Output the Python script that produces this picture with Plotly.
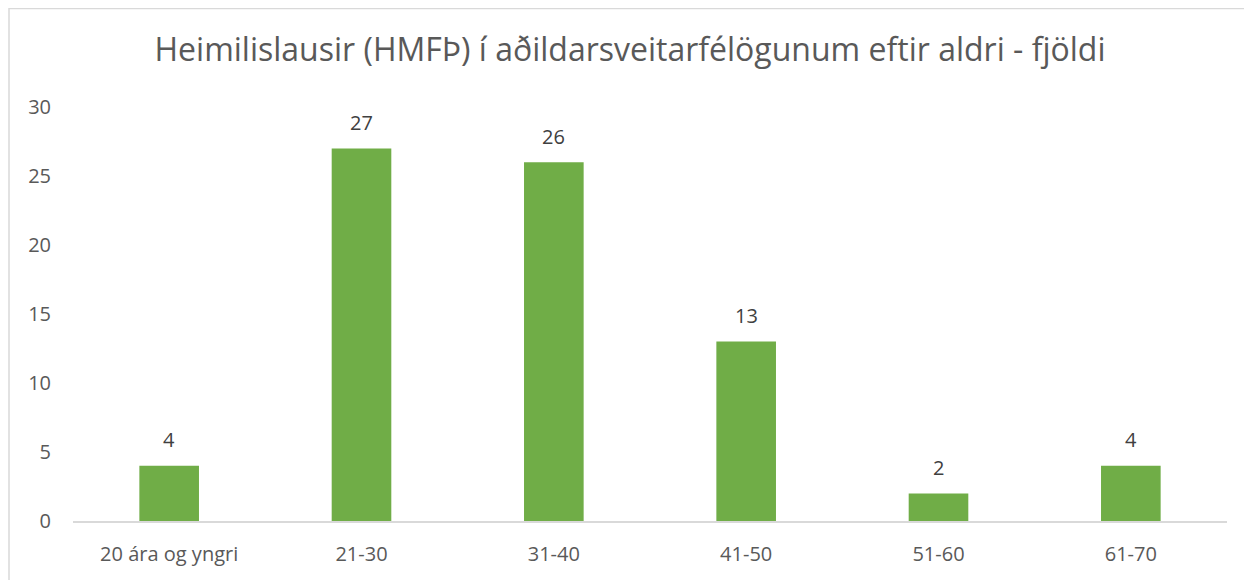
import plotly.graph_objects as go

categories = ["20 ára og yngri", "21-30", "31-40", "41-50", "51-60", "61-70"]
values = [4, 27, 26, 13, 2, 4]
y_ticks = [0, 5, 10, 15, 20, 25, 30]

OFF = 8  # default page body margin
W, H = 1252 - OFF, 580 - OFF
L, T = 73 - OFF, 107 - OFF
R = 1252 - 1227
B = 580 - 521
pw, ph = W - L - R, H - T - B

fig = go.Figure(go.Bar(
    x=categories, y=values,
    marker=dict(color="#70AD47", line=dict(width=0)),
    width=0.31,
    cliponaxis=False,
    hoverinfo="skip",
))

annotations = [
    dict(x=c, y=v, xref="x", yref="y", text=str(v), showarrow=False,
         yanchor="middle", yshift=26,
         font=dict(size=20, color="#404040", family="Open Sans"))
    for c, v in zip(categories, values)
]

fig.update_layout(
    width=W, height=H,
    margin=dict(l=L, r=R, t=T, b=B),
    paper_bgcolor="white", plot_bgcolor="white",
    font=dict(family="Open Sans", color="#595959", size=20),
    title=dict(text="Heimilislausir (HMFÞ) í aðildarsveitarfélögunum eftir aldri - fjöldi",
               x=0.5, xanchor="center", y=1 - (50 - OFF) / H, yanchor="middle",
               font=dict(size=32, color="#595959", family="Open Sans")),
    showlegend=False,
    bargap=0.69,
    annotations=annotations,
    xaxis=dict(showgrid=False, showline=True, linecolor="#D9D9D9", linewidth=1.5,
               ticks="", tickfont=dict(size=20, color="#595959"), ticklabelstandoff=14),
    yaxis=dict(range=[0, 30], tickvals=y_ticks, showgrid=False, zeroline=False,
               showline=False, ticks="", tickfont=dict(size=20, color="#595959"),
               ticklabelstandoff=21),
    shapes=[dict(type="rect", xref="paper", yref="paper",
                 x0=(9 - OFF - L) / pw, x1=(1250 - OFF - L) / pw,
                 y0=(H - B - 600) / ph, y1=(H - B - 0.5) / ph,
                 line=dict(color="#D9D9D9", width=1.5), fillcolor="rgba(0,0,0,0)",
                 layer="below")],
)

fig.write_html("out.html")
